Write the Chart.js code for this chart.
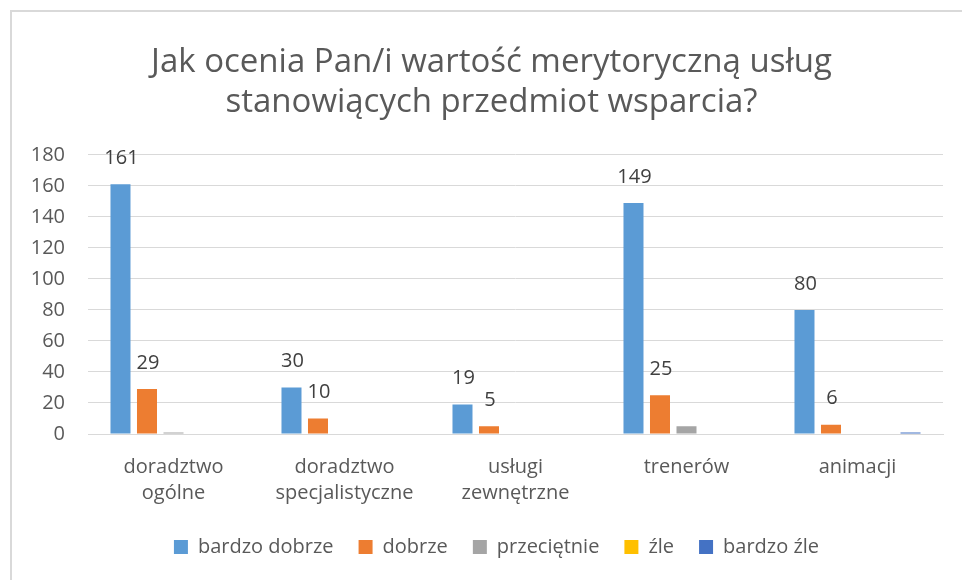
<!DOCTYPE html>
<html>
<head>
<meta charset="utf-8">
<script src="https://cdn.jsdelivr.net/npm/chart.js@4"></script>
<style>
  body { margin: 0; background: #fff; }
  #wrap { position: relative; width: 962px; height: 580px; overflow: hidden; }
  #frame { position: absolute; left: 10px; top: 10px; width: 1000px; height: 620px; border: 2px solid #d9d9d9; box-sizing: border-box; }
  canvas { position: absolute; left: 0; top: 0; }
</style>
</head>
<body>
<div id="wrap">
  <div id="frame"></div>
  <canvas id="chart" width="962" height="580"></canvas>
</div>
<script>
// dane z wykresu
const categories = [['doradztwo', 'ogólne'], ['doradztwo', 'specjalistyczne'], ['usługi', 'zewnętrzne'], 'trenerów', 'animacji'];
const bardzoDobrze = [161, 30, 19, 149, 80];
const dobrze = [29, 10, 5, 25, 6];
const przecietnie = [1, 0, 0, 5, 0];
const zle = [0, 0, 0, 0, 0];
const bardzoZle = [0, 0, 0, 0, 1];
const yTicks = [0, 20, 40, 60, 80, 100, 120, 140, 160, 180];

const FONT = 'Open Sans';

// etykiety wartości tylko dla dwóch pierwszych serii
const valueLabels = {
    id: 'valueLabels',
    afterDatasetsDraw(chart) {
        const ctx = chart.ctx;
        ctx.save();
        ctx.font = '20px "' + FONT + '"';
        ctx.fillStyle = '#404040';
        ctx.textAlign = 'center';
        ctx.textBaseline = 'middle';
        [0, 1].forEach(i => {
            const meta = chart.getDatasetMeta(i);
            meta.data.forEach((bar, j) => {
                const v = chart.data.datasets[i].data[j];
                ctx.fillText(v, bar.x + 1, bar.y - 26);
            });
        });
        ctx.restore();
    }
};

// tytuł i legenda są wyśrodkowane na ramce, nie na płótnie
const shiftBoxes = {
    id: 'shiftBoxes',
    afterLayout(chart) {
        if (chart.titleBlock) { chart.titleBlock.left += 20; chart.titleBlock.right += 20; }
        if (chart.legend) { chart.legend.left += 25; chart.legend.right += 25; }
    }
};

new Chart(document.getElementById('chart'), {
    type: 'bar',
    data: {
        labels: categories,
        datasets: [
            { label: 'bardzo dobrze', data: bardzoDobrze, backgroundColor: '#5B9BD5' },
            { label: 'dobrze', data: dobrze, backgroundColor: '#ED7D31' },
            { label: 'przeciętnie', data: przecietnie, backgroundColor: '#A5A5A5' },
            { label: 'źle', data: zle, backgroundColor: '#FFC000' },
            { label: 'bardzo źle', data: bardzoZle, backgroundColor: '#4472C4' }
        ]
    },
    options: {
        responsive: false,
        animation: false,
        datasets: {
            bar: { categoryPercentage: 0.775, barPercentage: 0.755 }
        },
        layout: { padding: { left: 0, right: 19, top: 0, bottom: 13 } },
        plugins: {
            title: {
                display: true,
                text: ['Jak ocenia Pan/i wartość merytoryczną usług', 'stanowiących przedmiot wsparcia?'],
                color: '#595959',
                font: { family: FONT, size: 33, weight: 'normal', lineHeight: 1.21 },
                padding: { top: 43, bottom: 32 }
            },
            legend: {
                position: 'bottom',
                labels: {
                    color: '#595959',
                    font: { family: FONT, size: 20 },
                    boxWidth: 14,
                    boxHeight: 14,
                    padding: 25
                }
            },
            tooltip: { enabled: false }
        },
        scales: {
            x: {
                afterFit(scale) { scale.height = 78; },
                grid: { display: false },
                border: { color: '#d9d9d9', width: 1 },
                ticks: {
                    color: '#595959',
                    font: { family: FONT, size: 20, lineHeight: 1.3 },
                    padding: 12,
                    maxRotation: 0
                }
            },
            y: {
                min: 0,
                max: 180,
                afterFit(scale) { scale.width = 88; },
                afterBuildTicks(scale) { scale.ticks = yTicks.map(v => ({ value: v })); },
                grid: { color: '#d9d9d9', drawTicks: false },
                border: { display: false },
                ticks: {
                    color: '#595959',
                    font: { family: FONT, size: 20 },
                    padding: 23
                }
            }
        }
    },
    plugins: [valueLabels, shiftBoxes]
});
</script>
</body>
</html>
